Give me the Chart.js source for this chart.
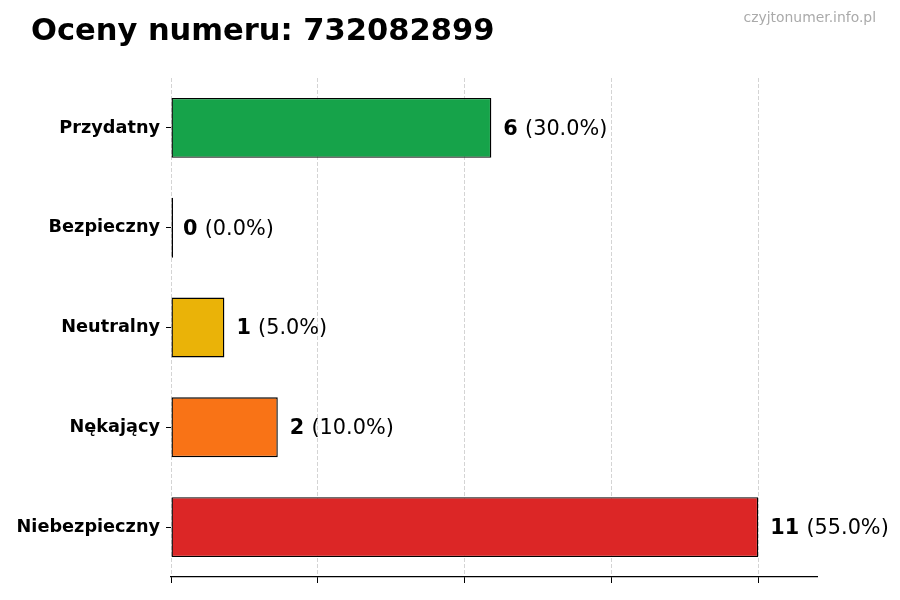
<!DOCTYPE html>
<html>
<head>
<meta charset="utf-8">
<script src="https://cdn.jsdelivr.net/npm/chart.js@4"></script>
<style>
  body { margin: 0; background: #fff; }
  #wrap { width: 900px; height: 600px; }
</style>
</head>
<body>
<div id="wrap"><canvas id="chart" width="900" height="600"></canvas></div>
<script>
// --- DATA ---
const categories = ['Przydatny', 'Bezpieczny', 'Neutralny', 'Nękający', 'Niebezpieczny'];
const counts = [6, 0, 1, 2, 11];
const percents = ['30.0%', '0.0%', '5.0%', '10.0%', '55.0%'];
const barColors = ['#16a34a', '#3b82f6', '#eab308', '#f97316', '#dc2626'];
const xTickValues = [0, 2.75, 5.5, 8.25, 11];
const xMax = 12.1;

const titleText = 'Oceny numeru: 732082899';
const watermark = 'czyjtonumer.info.pl';

const FONT = "'DejaVu Sans', sans-serif";

// title, watermark and the value labels next to each bar
const decorPlugin = {
    id: 'decor',
    afterDraw(chart) {
        const ctx = chart.ctx;
        ctx.save();
        ctx.fillStyle = '#000';
        ctx.font = "bold 30.5px " + FONT;
        ctx.textAlign = 'left';
        ctx.textBaseline = 'alphabetic';
        ctx.fillText(titleText, 31, 40);

        ctx.fillStyle = '#aaaaaa';
        ctx.font = "13.9px " + FONT;
        ctx.textAlign = 'right';
        ctx.fillText(watermark, 876, 22);

        const meta = chart.getDatasetMeta(0);
        const xScale = chart.scales.x;
        meta.data.forEach((bar, i) => {
            const x = xScale.getPixelForValue(counts[i]) + 12;
            const y = bar.y + 1.5;
            ctx.textAlign = 'left';
            ctx.textBaseline = 'middle';
            ctx.fillStyle = '#000';
            ctx.font = "bold 20.8px " + FONT;
            const num = String(counts[i]);
            ctx.fillText(num, x, y);
            const w = ctx.measureText(num + ' ').width;
            ctx.font = "20.8px " + FONT;
            ctx.fillText('(' + percents[i] + ')', x + w, y);
        });
        ctx.restore();
    }
};

new Chart(document.getElementById('chart'), {
    type: 'bar',
    data: {
        labels: categories,
        datasets: [{
            data: counts,
            backgroundColor: barColors,
            borderColor: '#000',
            borderWidth: 1.4,
            borderSkipped: false,
            minBarLength: 2,
            barPercentage: 0.6,
            categoryPercentage: 1.0
        }]
    },
    options: {
        indexAxis: 'y',
        responsive: false,
        animation: false,
        devicePixelRatio: 1,
        layout: { padding: { left: 0, right: 83, top: 78, bottom: 0 } },
        plugins: {
            legend: { display: false },
            tooltip: { enabled: false }
        },
        scales: {
            x: {
                min: 0,
                max: xMax,
                z: 1,
                afterBuildTicks: (scale) => {
                    scale.ticks = xTickValues.map(v => ({ value: v }));
                },
                afterFit: (scale) => { scale.height = 23; },
                ticks: { display: false },
                grid: {
                    color: 'rgba(176,176,176,0.55)',
                    lineWidth: 1,
                    drawTicks: true,
                    tickLength: 6,
                    tickColor: '#000',
                    tickWidth: 1
                },
                border: { display: true, color: '#000', width: 1.2, dash: [4, 2] }
            },
            y: {
                afterFit: (scale) => { scale.width = 171; },
                ticks: {
                    color: '#000',
                    padding: 6,
                    font: { family: FONT, size: 17.7, weight: 'bold' }
                },
                grid: {
                    offset: false,
                    drawOnChartArea: false,
                    drawTicks: true,
                    tickLength: 5,
                    tickColor: '#000',
                    tickWidth: 1
                },
                border: { display: false }
            }
        }
    },
    plugins: [decorPlugin]
});
</script>
</body>
</html>
